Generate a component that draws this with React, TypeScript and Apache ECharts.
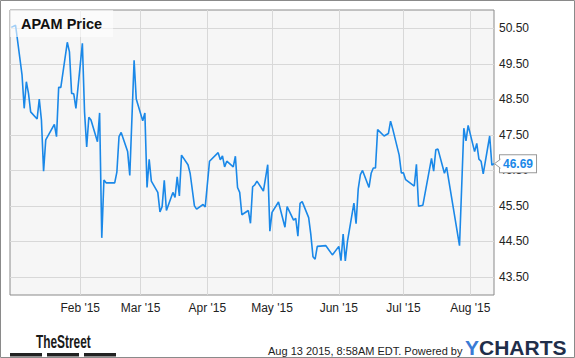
import React, { useEffect, useRef } from 'react';
import * as echarts from 'echarts';

const chartTitle = 'APAM Price';

const dates = [
  '2014-12-31', '2015-01-02', '2015-01-05', '2015-01-06', '2015-01-07', '2015-01-08', '2015-01-09',
  '2015-01-12', '2015-01-13', '2015-01-14', '2015-01-15', '2015-01-16', '2015-01-20', '2015-01-21',
  '2015-01-22', '2015-01-23', '2015-01-26', '2015-01-27', '2015-01-28', '2015-01-29', '2015-01-30',
  '2015-02-02', '2015-02-03', '2015-02-04', '2015-02-05', '2015-02-06', '2015-02-09', '2015-02-10',
  '2015-02-11', '2015-02-12', '2015-02-13', '2015-02-17', '2015-02-18', '2015-02-19', '2015-02-20',
  '2015-02-23', '2015-02-24', '2015-02-26', '2015-02-27', '2015-03-02', '2015-03-03', '2015-03-04',
  '2015-03-05', '2015-03-06', '2015-03-09', '2015-03-10', '2015-03-11', '2015-03-12', '2015-03-13',
  '2015-03-16', '2015-03-17', '2015-03-18', '2015-03-19', '2015-03-20', '2015-03-23', '2015-03-24',
  '2015-03-26', '2015-03-27', '2015-03-30', '2015-03-31', '2015-04-02', '2015-04-06', '2015-04-07',
  '2015-04-08', '2015-04-09', '2015-04-10', '2015-04-13', '2015-04-14', '2015-04-15', '2015-04-16',
  '2015-04-17', '2015-04-20', '2015-04-21', '2015-04-22', '2015-04-23', '2015-04-24', '2015-04-27',
  '2015-04-29', '2015-04-30', '2015-05-01', '2015-05-04', '2015-05-07', '2015-05-08', '2015-05-11',
  '2015-05-12', '2015-05-13', '2015-05-14', '2015-05-15', '2015-05-18', '2015-05-19', '2015-05-20',
  '2015-05-21', '2015-05-22', '2015-05-26', '2015-05-29', '2015-06-01', '2015-06-02', '2015-06-03',
  '2015-06-04', '2015-06-05', '2015-06-08', '2015-06-09', '2015-06-10', '2015-06-11', '2015-06-12',
  '2015-06-15', '2015-06-16', '2015-06-17', '2015-06-18', '2015-06-19', '2015-06-22', '2015-06-24',
  '2015-06-25', '2015-06-26', '2015-06-29', '2015-06-30', '2015-07-01', '2015-07-02', '2015-07-06',
  '2015-07-07', '2015-07-08', '2015-07-10', '2015-07-14', '2015-07-15', '2015-07-16', '2015-07-17',
  '2015-07-20', '2015-07-21', '2015-07-27', '2015-07-29', '2015-07-30', '2015-07-31', '2015-08-03',
  '2015-08-04', '2015-08-05', '2015-08-06', '2015-08-07', '2015-08-10', '2015-08-11', '2015-08-12',
];

const prices = [
  50.53, 50.59, 49.19, 48.25, 49.0, 48.67, 48.15,
  47.95, 48.51, 47.92, 46.48, 47.36, 47.8, 47.45,
  48.84, 48.84, 50.11, 49.84, 48.67, 48.66, 48.25,
  50.08, 48.15, 47.16, 48.0, 47.92, 47.31, 48.12,
  44.6, 46.23, 46.15, 46.15, 46.45, 47.45, 47.57,
  47.03, 46.36, 49.6, 48.51, 47.9, 48.12, 46.02,
  46.81, 46.2, 45.88, 45.33, 45.48, 46.22, 45.37,
  45.88, 45.74, 46.32, 45.78, 46.93, 46.66, 46.42,
  45.5, 45.41, 45.54, 45.47, 46.76, 47.0, 46.8,
  46.91, 46.6, 46.76, 46.6, 46.9, 46.02, 45.88,
  45.25, 45.37, 45.01, 46.04, 46.09, 46.2, 45.92,
  46.66, 44.79, 45.32, 45.61, 44.9, 45.48, 45.1,
  45.15, 44.65, 45.57, 45.62, 45.17, 44.7, 44.07,
  44.0, 44.36, 44.38, 44.12, 44.36, 43.96, 44.71,
  43.95, 44.5, 45.58, 45.0, 45.98, 46.38, 46.5,
  46.02, 46.42, 46.57, 46.57, 47.65, 47.47, 47.54,
  47.89, 47.67, 46.93, 46.43, 46.43, 46.24, 46.06,
  46.67, 45.49, 45.52, 46.84, 46.48, 47.08, 47.1,
  46.42, 46.59, 44.38, 47.69, 47.33, 47.77, 47.03,
  47.26, 46.82, 46.76, 46.4, 47.47, 46.65, 46.69,
];

const yTickValues = [43.5, 44.5, 45.5, 46.5, 47.5, 48.5, 49.5, 50.5];
const monthTickDates = ['2015-02-01', '2015-03-01', '2015-04-01', '2015-05-01', '2015-06-01', '2015-07-01', '2015-08-01'];
const monthTickLabels = ["Feb '15", "Mar '15", "Apr '15", "May '15", "Jun '15", "Jul '15", "Aug '15"];
const footerText = 'Aug 13 2015, 8:58AM EDT. Powered by';

const FONT = '"Liberation Sans", Arial, Helvetica, sans-serif';
const LINE_BLUE = '#1a88e8';

const toTs = (s: string) => new Date(s + 'T00:00:00').getTime();

export default function App() {
  const ref = useRef<HTMLDivElement>(null);

  useEffect(() => {
    document.body.style.margin = '0';
    if (!ref.current) return;
    const chart = echarts.init(ref.current, null, { renderer: 'svg' });
    const data = dates.map((d, i) => [toTs(d), prices[i]]);
    const monthTs = monthTickDates.map(toTs);

    chart.setOption({
      animation: false,
      backgroundColor: '#ffffff',
      textStyle: { fontFamily: FONT },
      title: {
        text: chartTitle,
        left: 10,
        top: 10,
        padding: [6, 11, 6, 11],
        backgroundColor: 'rgba(255,255,255,0.6)',
        textStyle: { fontFamily: FONT, fontSize: 14.5, fontWeight: 'bold', color: '#111', lineHeight: 15 },
      },
      grid: {
        left: 10,
        top: 10,
        right: 81,
        bottom: 63,
        show: true,
        backgroundColor: '#f6f6f6',
        borderColor: '#8a8a8a',
        borderWidth: 1,
      },
      xAxis: {
        type: 'value',
        min: new Date('2014-12-30T10:00:00').getTime(),
        max: toTs('2015-08-12'),
        axisLine: { show: false },
        axisTick: { show: false, customValues: monthTs },
        axisLabel: {
          customValues: monthTs,
          formatter: (v: number, idx: number) => {
            const i = monthTs.indexOf(v);
            return monthTickLabels[i >= 0 ? i : idx] || '';
          },
          color: '#222',
          fontSize: 12,
          fontFamily: FONT,
          margin: 7,
        },
        splitLine: { show: true, lineStyle: { color: '#d8d8d8', width: 1 } },
      },
      yAxis: {
        type: 'value',
        position: 'right',
        min: 42.99,
        max: 51.02,
        axisLine: { show: false },
        axisTick: { show: false, customValues: yTickValues },
        axisLabel: {
          customValues: yTickValues,
          formatter: (v: number) => v.toFixed(2),
          color: '#222',
          fontSize: 12,
          fontFamily: FONT,
          margin: 5,
        },
        splitLine: { show: true, lineStyle: { color: '#d8d8d8', width: 1 } },
      },
      series: [
        {
          type: 'line',
          data,
          symbol: 'none',
          showSymbol: false,
          lineStyle: { color: LINE_BLUE, width: 1.6 },
          endLabel: {
            show: true,
            formatter: (p: any) => Number(p.value[1]).toFixed(2),
            color: LINE_BLUE,
            fontWeight: 'bold',
            fontSize: 12,
            fontFamily: FONT,
            backgroundColor: '#ffffff',
            borderColor: '#999',
            borderWidth: 1,
            padding: [2, 3, 2, 3],
            lineHeight: 13,
            distance: 6,
          },
        },
      ],
    });

    const last = data[data.length - 1];
    const pt = chart.convertToPixel({ seriesIndex: 0 }, last) as number[];
    const px = pt[0];
    const py = pt[1];

    chart.setOption({
      graphic: [
        {
          type: 'rect',
          shape: { x: 0.5, y: 0.5, width: 574, height: 357 },
          style: { fill: 'none', stroke: '#8a8a8a', lineWidth: 1 },
          silent: true,
        },
        {
          type: 'polygon',
          z: 100,
          shape: { points: [[px + 0.5, py], [px + 6.5, py - 4.5], [px + 6.5, py + 4.5]] },
          style: { fill: '#ffffff', stroke: 'none' },
        },
        {
          type: 'polyline',
          z: 101,
          shape: { points: [[px + 6.5, py - 4.5], [px + 0.5, py], [px + 6.5, py + 4.5]] },
          style: { fill: 'none', stroke: '#999', lineWidth: 1 },
        },
        {
          type: 'text',
          x: 36,
          y: 342,
          scaleX: 0.66,
          style: {
            text: 'TheStreet',
            font: 'bold 18px ' + FONT,
            fill: '#1a1a1a',
            textVerticalAlign: 'middle',
          },
        },
        { type: 'rect', shape: { x: 10, y: 353, width: 32, height: 3.5 }, style: { fill: '#222' } },
        { type: 'rect', shape: { x: 47, y: 353, width: 32, height: 3.5 }, style: { fill: '#222' } },
        { type: 'rect', shape: { x: 84, y: 353, width: 32, height: 3.5 }, style: { fill: '#222' } },
        {
          type: 'text',
          x: 268,
          y: 350.5,
          style: {
            text: footerText,
            font: '11px ' + FONT,
            fill: '#222',
            textAlign: 'left',
            textVerticalAlign: 'middle',
          },
        },
        {
          type: 'text',
          x: 465,
          y: 347,
          style: {
            text: 'Y',
            font: 'bold 21px ' + FONT,
            fill: '#3a7bd5',
            textAlign: 'left',
            textVerticalAlign: 'middle',
          },
        },
        {
          type: 'text',
          x: 479,
          y: 347,
          style: {
            text: 'CHARTS',
            font: 'bold 21px ' + FONT,
            fill: '#1f2e4a',
            textAlign: 'left',
            textVerticalAlign: 'middle',
          },
        },
      ],
    });

    return () => {
      chart.dispose();
    };
  }, []);

  return (
    <div
      ref={ref}
      style={{ position: 'fixed', left: 0, top: 0, width: 575, height: 358 }}
    />
  );
}
